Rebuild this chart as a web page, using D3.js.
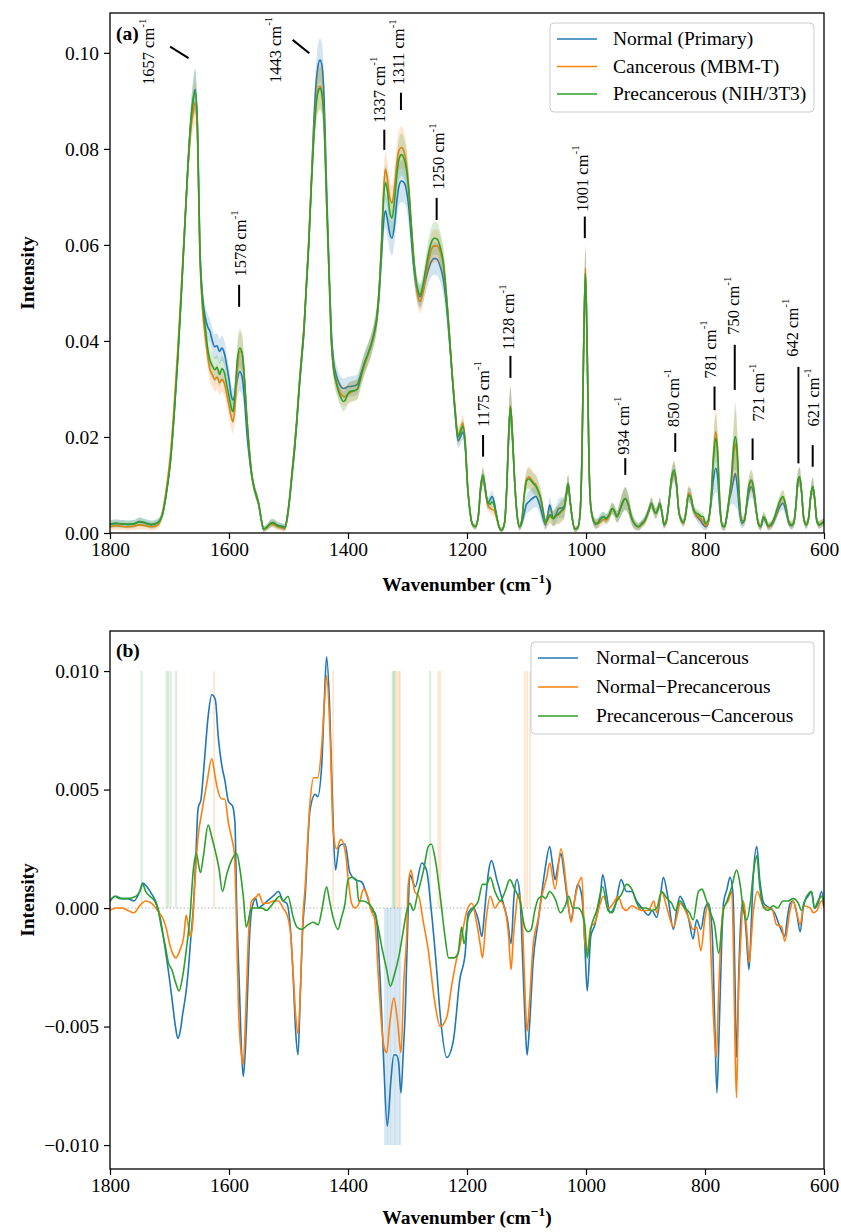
<!DOCTYPE html>
<html><head><meta charset="utf-8">
<script src="https://cdn.jsdelivr.net/npm/d3@7"></script>
<style>
body{margin:0;background:#fff}
svg{display:block}
text{font-family:"Liberation Serif","Times New Roman",Times,serif;fill:#000}
</style>
</head><body>
<svg id="chart" width="841" height="1232"></svg>
<script>
// ---------------- DATA ----------------
const seriesNamesA = ["Normal (Primary)", "Cancerous (MBM-T)", "Precancerous (NIH/3T3)"];
const seriesNamesB = ["Normal\u2212Cancerous", "Normal\u2212Precancerous", "Precancerous\u2212Cancerous"];
const xTicks = [1800, 1600, 1400, 1200, 1000, 800, 600];
const yTicksA = [0, 0.02, 0.04, 0.06, 0.08, 0.10];
const yTicksB = [-0.010, -0.005, 0, 0.005, 0.010];

const wavenumbers = [
1800,1790,1780,1770,1760,1750,1740,1730,1720,1712,
1705,1698,1692,1686,1680,1675,1670,1665,1660,1657,
1653,1649,1645,1640,1636,1632,1628,1624,1620,1616,
1612,1608,1604,1600,1596,1593,1590,1586,1582,1578,
1574,1570,1566,1562,1558,1554,1550,1546,1542,1538,
1534,1530,1526,1522,1518,1514,1510,1506,1502,1498,
1494,1490,1486,1482,1478,1474,1470,1466,1462,1458,
1454,1450,1447,1444,1440,1436,1432,1428,1424,1420,
1416,1412,1408,1404,1400,1396,1392,1388,1384,1380,
1376,1372,1368,1364,1360,1356,1352,1348,1344,1340,
1337,1334,1330,1326,1322,1318,1314,1310,1306,1302,
1298,1294,1290,1286,1282,1279,1275,1270,1265,1260,
1255,1250,1245,1240,1235,1230,1225,1220,1215,1211,
1207,1203,1199,1195,1191,1186,1181,1177,1173,1169,
1165,1161,1158,1155,1150,1146,1142,1137,1133,1130,
1127,1124,1120,1116,1112,1108,1104,1100,1096,1092,
1088,1084,1080,1076,1072,1068,1064,1061,1058,1055,
1050,1046,1041,1037,1033,1030,1027,1023,1019,1014,
1010,1007,1004,1001,998,995,992,988,984,980,
976,971,966,961,956,952,948,943,938,934,
929,924,918,912,906,901,895,890,886,883,
879,876,872,869,865,861,856,852,848,844,
840,836,832,828,824,820,816,812,807,803,
799,795,790,786,782,779,775,771,767,763,
759,756,752,749,746,742,738,734,730,726,
722,718,714,710,706,702,698,694,689,684,
679,674,669,664,659,655,651,647,644,641,
638,634,630,626,622,619,616,612,608,604,
600];

const normalPrimary = [
.0018,.0020,.0019,.0018,.0019,.0024,.0021,.0018,.0022,.0038,
.0085,.0155,.0250,.0365,.0500,.0620,.0740,.0840,.0905,.0924,
.0850,.0600,.0500,.0450,.0430,.0420,.0400,.0388,.0390,.0378,
.0385,.0375,.0350,.0320,.0285,.0277,.0290,.0320,.0336,.0325,
.0280,.0210,.0160,.0120,.0095,.0078,.0060,.0030,.0008,.0010,
.0015,.0020,.0022,.0019,.0016,.0015,.0014,.0012,.0030,.0070,
.0120,.0170,.0230,.0300,.0360,.0420,.0510,.0600,.0720,.0840,
.0930,.0975,.0985,.0975,.0900,.0720,.0560,.0420,.0355,.0330,
.0315,.0305,.0301,.0302,.0305,.0305,.0306,.0307,.0310,.0325,
.0340,.0355,.0367,.0380,.0395,.0415,.0440,.0490,.0570,.0650,
.0671,.0655,.0625,.0614,.0640,.0690,.0725,.0733,.0730,.0715,
.0680,.0620,.0560,.0520,.0497,.0492,.0500,.0525,.0548,.0565,
.0572,.0570,.0555,.0530,.0480,.0410,.0330,.0250,.0192,.0200,
.0210,.0180,.0095,.0045,.0018,.0013,.0035,.0090,.0114,.0090,
.0062,.0070,.0076,.0068,.0034,.0012,.0006,.0020,.0100,.0200,
.0260,.0210,.0110,.0040,.0013,.0020,.0040,.0060,.0065,.0070,
.0074,.0076,.0066,.0050,.0030,.0017,.0040,.0058,.0045,.0030,
.0040,.0051,.0052,.0054,.0080,.0103,.0070,.0030,.0008,.0010,
.0040,.0150,.0380,.0542,.0380,.0150,.0055,.0028,.0018,.0022,
.0030,.0034,.0030,.0038,.0051,.0045,.0034,.0048,.0065,.0072,
.0060,.0034,.0018,.0013,.0020,.0027,.0045,.0062,.0048,.0041,
.0050,.0062,.0040,.0017,.0025,.0060,.0110,.0124,.0100,.0045,
.0027,.0022,.0045,.0080,.0075,.0050,.0040,.0032,.0025,.0017,
.0013,.0020,.0060,.0110,.0135,.0120,.0050,.0015,.0013,.0035,
.0070,.0085,.0110,.0124,.0100,.0045,.0020,.0025,.0055,.0085,
.0096,.0080,.0045,.0018,.0013,.0030,.0025,.0013,.0015,.0025,
.0040,.0055,.0062,.0045,.0020,.0015,.0020,.0060,.0105,.0117,
.0090,.0030,.0017,.0030,.0080,.0097,.0075,.0025,.0017,.0020,
.0024];

const cancerousMBMT = [
.0013,.0015,.0014,.0013,.0014,.0017,.0015,.0013,.0016,.0042,
.0095,.0170,.0270,.0385,.0515,.0630,.0740,.0830,.0880,.0896,
.0825,.0580,.0475,.0410,.0370,.0340,.0330,.0320,.0325,.0313,
.0320,.0312,.0290,.0265,.0240,.0232,.0260,.0340,.0378,.0375,
.0320,.0240,.0175,.0125,.0095,.0078,.0060,.0030,.0008,.0010,
.0014,.0018,.0018,.0016,.0013,.0012,.0010,.0009,.0035,.0075,
.0130,.0180,.0240,.0310,.0370,.0430,.0520,.0610,.0720,.0820,
.0890,.0925,.0931,.0920,.0855,.0690,.0545,.0400,.0340,.0315,
.0300,.0290,.0285,.0284,.0290,.0292,.0295,.0297,.0300,.0315,
.0335,.0350,.0365,.0380,.0395,.0418,.0445,.0500,.0600,.0720,
.0758,.0740,.0700,.0687,.0720,.0770,.0798,.0803,.0795,.0770,
.0720,.0650,.0580,.0525,.0490,.0482,.0495,.0530,.0565,.0590,
.0598,.0598,.0585,.0560,.0500,.0420,.0335,.0260,.0204,.0215,
.0229,.0190,.0100,.0045,.0018,.0013,.0035,.0095,.0118,.0085,
.0058,.0052,.0049,.0048,.0030,.0012,.0006,.0020,.0100,.0205,
.0265,.0215,.0112,.0040,.0013,.0025,.0080,.0112,.0117,.0112,
.0105,.0100,.0088,.0072,.0045,.0020,.0028,.0035,.0032,.0030,
.0035,.0038,.0045,.0050,.0080,.0103,.0070,.0030,.0008,.0010,
.0040,.0150,.0385,.0552,.0385,.0150,.0055,.0028,.0020,.0020,
.0022,.0028,.0027,.0035,.0051,.0045,.0034,.0048,.0065,.0072,
.0060,.0034,.0018,.0013,.0018,.0025,.0045,.0062,.0048,.0041,
.0050,.0062,.0040,.0017,.0022,.0060,.0115,.0128,.0105,.0045,
.0027,.0020,.0045,.0083,.0078,.0052,.0040,.0035,.0030,.0025,
.0015,.0020,.0070,.0160,.0211,.0180,.0065,.0015,.0013,.0040,
.0075,.0100,.0160,.0187,.0160,.0065,.0025,.0025,.0060,.0098,
.0107,.0090,.0048,.0018,.0013,.0034,.0028,.0013,.0016,.0028,
.0045,.0065,.0074,.0055,.0022,.0017,.0020,.0060,.0108,.0117,
.0090,.0030,.0017,.0030,.0080,.0097,.0075,.0025,.0017,.0020,
.0024];

const precancerousNIH = [
.0018,.0020,.0019,.0018,.0019,.0023,.0020,.0017,.0021,.0038,
.0085,.0155,.0250,.0365,.0500,.0620,.0745,.0845,.0905,.0919,
.0845,.0590,.0490,.0430,.0385,.0360,.0348,.0340,.0345,.0330,
.0342,.0335,.0310,.0285,.0260,.0253,.0290,.0360,.0385,.0375,
.0320,.0240,.0175,.0125,.0095,.0078,.0060,.0030,.0008,.0010,
.0015,.0020,.0021,.0018,.0015,.0014,.0012,.0011,.0035,.0075,
.0125,.0175,.0235,.0305,.0365,.0425,.0515,.0600,.0710,.0810,
.0885,.0920,.0926,.0915,.0850,.0690,.0545,.0400,.0340,.0315,
.0295,.0282,.0274,.0278,.0290,.0295,.0296,.0297,.0300,.0318,
.0338,.0355,.0368,.0382,.0398,.0418,.0445,.0500,.0590,.0700,
.0730,.0715,.0670,.0656,.0690,.0745,.0780,.0788,.0780,.0760,
.0715,.0645,.0575,.0528,.0503,.0496,.0510,.0545,.0580,.0605,
.0614,.0612,.0595,.0565,.0500,.0420,.0330,.0255,.0200,.0210,
.0222,.0188,.0098,.0045,.0018,.0013,.0035,.0098,.0121,.0090,
.0062,.0060,.0065,.0060,.0034,.0012,.0006,.0020,.0100,.0205,
.0263,.0212,.0110,.0040,.0013,.0025,.0075,.0108,.0113,.0108,
.0102,.0097,.0086,.0072,.0045,.0022,.0030,.0038,.0035,.0030,
.0037,.0040,.0047,.0052,.0080,.0103,.0070,.0030,.0008,.0010,
.0040,.0150,.0380,.0540,.0380,.0150,.0055,.0028,.0020,.0020,
.0028,.0034,.0030,.0038,.0051,.0045,.0034,.0048,.0065,.0072,
.0060,.0034,.0018,.0013,.0020,.0027,.0045,.0062,.0048,.0041,
.0050,.0062,.0040,.0017,.0025,.0060,.0118,.0131,.0105,.0045,
.0027,.0022,.0040,.0078,.0075,.0052,.0042,.0040,.0035,.0034,
.0020,.0025,.0070,.0150,.0197,.0170,.0062,.0015,.0013,.0040,
.0076,.0110,.0180,.0201,.0175,.0070,.0025,.0025,.0060,.0100,
.0110,.0092,.0050,.0018,.0013,.0034,.0028,.0015,.0018,.0030,
.0050,.0068,.0076,.0055,.0022,.0017,.0020,.0060,.0110,.0117,
.0090,.0030,.0017,.0030,.0080,.0097,.0075,.0025,.0017,.0020,
.0024];

const spectrumSD = [
.0008,.0008,.0008,.0008,.0008,.0009,.0008,.0008,.0008,.0009,
.0010,.0012,.0015,.0018,.0022,.0026,.0030,.0034,.0040,.0045,
.0040,.0032,.0028,.0026,.0026,.0026,.0026,.0026,.0026,.0026,
.0026,.0026,.0025,.0024,.0024,.0024,.0026,.0035,.0040,.0038,
.0030,.0022,.0016,.0013,.0012,.0011,.0010,.0008,.0006,.0006,
.0007,.0008,.0008,.0008,.0007,.0007,.0007,.0007,.0008,.0010,
.0012,.0014,.0016,.0018,.0020,.0022,.0025,.0028,.0032,.0036,
.0040,.0045,.0045,.0045,.0040,.0034,.0030,.0026,.0024,.0022,
.0021,.0021,.0021,.0021,.0021,.0021,.0021,.0021,.0021,.0021,
.0022,.0022,.0022,.0022,.0022,.0023,.0024,.0026,.0030,.0034,
.0036,.0036,.0036,.0036,.0038,.0040,.0042,.0044,.0042,.0040,
.0038,.0034,.0030,.0026,.0024,.0024,.0025,.0027,.0030,.0032,
.0034,.0034,.0033,.0032,.0030,.0026,.0022,.0018,.0016,.0016,
.0016,.0015,.0011,.0008,.0006,.0006,.0008,.0014,.0018,.0015,
.0012,.0012,.0012,.0011,.0008,.0006,.0005,.0008,.0020,.0035,
.0042,.0035,.0020,.0010,.0008,.0010,.0016,.0020,.0022,.0022,
.0022,.0022,.0020,.0018,.0014,.0012,.0014,.0016,.0016,.0016,
.0018,.0020,.0022,.0022,.0020,.0018,.0014,.0008,.0006,.0006,
.0010,.0020,.0040,.0050,.0040,.0020,.0012,.0010,.0010,.0010,
.0010,.0010,.0010,.0011,.0012,.0012,.0012,.0018,.0022,.0024,
.0020,.0014,.0010,.0008,.0008,.0009,.0010,.0012,.0011,.0011,
.0011,.0012,.0010,.0008,.0008,.0012,.0018,.0020,.0018,.0010,
.0008,.0008,.0010,.0016,.0016,.0012,.0010,.0010,.0010,.0010,
.0008,.0009,.0015,.0035,.0050,.0040,.0020,.0008,.0008,.0012,
.0018,.0025,.0050,.0070,.0050,.0025,.0010,.0010,.0015,.0020,
.0022,.0018,.0012,.0008,.0008,.0010,.0009,.0008,.0008,.0009,
.0010,.0012,.0014,.0012,.0008,.0008,.0009,.0014,.0018,.0020,
.0016,.0009,.0008,.0010,.0016,.0018,.0014,.0008,.0008,.0008,
.0008];

// difference spectra: [wavenumber, intensity difference]
const diffNormalCancerous = [
[1800,.0003],[1790,.0005],[1780,.0004],[1770,.0004],[1760,.0003],[1750,.0007],[1745,.00105],[1738,.0009],[1730,.0006],[1722,.0002],
[1715,-.0005],[1708,-.0016],[1700,-.0030],[1695,-.0040],[1690,-.0050],[1686,-.0055],[1682,-.0052],[1678,-.0045],[1672,-.0035],[1668,-.0025],
[1664,-.0012],[1660,.0000],[1656,.0020],[1652,.0042],[1647,.0046],[1642,.0060],[1635,.0081],[1629,.0090],[1623,.0088],[1618,.0072],
[1612,.0060],[1607,.0054],[1601,.0045],[1594,.0043],[1590,.0036],[1587,.0000],[1583,-.0030],[1579,-.0060],[1576,-.0071],[1573,-.0062],
[1570,-.0045],[1566,-.0015],[1562,-.0001],[1555,.0004],[1551,.0000],[1545,.0001],[1540,.0002],[1531,.0004],[1526,.0005],[1517,.0007],
[1509,.0003],[1503,.0002],[1497,-.0008],[1492,-.0030],[1488,-.0052],[1484,-.0062],[1480,-.0035],[1476,-.0008],[1472,.0005],[1464,.0041],
[1455,.0048],[1451,.0047],[1444,.0061],[1440,.0086],[1436,.0106],[1431,.0086],[1426,.0044],[1421,.0016],[1415,.0026],[1408,.0027],
[1405,.0027],[1397,.0015],[1388,.0012],[1377,.0011],[1369,.0006],[1360,-.0001],[1355,-.0002],[1352,-.0005],[1346,-.0030],[1340,-.0065],
[1334,-.0092],[1328,-.0073],[1323,-.0062],[1319,-.0062],[1315,-.0065],[1311,-.0078],[1307,-.0060],[1304,-.0045],[1299,-.0002],[1296,.0014],
[1287,.0009],[1276,.0019],[1268,.0016],[1260,-.0001],[1251,-.0026],[1245,-.0045],[1234,-.0063],[1223,-.0056],[1212,-.0030],[1203,-.0019],
[1198,-.0002],[1189,.0000],[1181,-.0005],[1175,-.0012],[1170,.0000],[1164,.0015],[1159,.0020],[1150,.0012],[1139,.0002],[1132,-.0005],
[1126,-.0015],[1121,.0005],[1116,.0012],[1111,.0005],[1106,-.0025],[1102,-.0050],[1099,-.0062],[1095,-.0050],[1089,-.0023],[1080,-.0005],
[1075,.0005],[1069,.0016],[1061,.0026],[1056,.0018],[1052,.0012],[1047,.0018],[1042,.0023],[1037,.0015],[1032,.0005],[1025,-.0005],
[1020,.0002],[1014,.0010],[1007,.0005],[1002,-.0015],[998,-.0035],[992,-.0012],[985,-.0007],[976,.0005],[972,.0014],[965,.0005],
[960,-.0002],[950,.0002],[941,.0012],[932,.0007],[923,.0007],[915,.0003],[906,.0000],[895,-.0003],[889,-.0001],[881,-.0004],
[875,.0005],[870,.0013],[862,.0004],[853,-.0009],[847,.0000],[842,.0005],[837,.0003],[828,-.0004],[820,-.0013],[814,-.0005],
[807,-.0009],[800,.0000],[794,.0002],[788,-.0010],[784,-.0045],[780,-.0078],[776,-.0050],[772,-.0015],[769,.0002],[763,.0008],
[758,.0013],[753,.0006],[750,-.0025],[747,-.0063],[743,-.0025],[739,-.0002],[736,.0003],[731,-.0010],[726,-.0026],[722,-.0005],
[719,.0013],[713,.0026],[708,.0012],[701,.0002],[691,.0000],[683,-.0002],[674,-.0008],[666,-.0012],[661,-.0003],[657,.0002],
[652,.0003],[646,-.0002],[640,-.0010],[634,.0002],[627,.0005],[621,.0007],[616,.0000],[610,.0002],[604,.0007],[600,.0000]];

const diffNormalPrecancerous = [
[1800,-.0001],[1790,.0000],[1780,.0000],[1770,-.0001],[1760,-.0002],[1750,.0001],[1740,.0003],[1730,.0002],[1720,-.0001],[1710,-.0005],
[1705,-.0009],[1700,-.0015],[1695,-.0019],[1689,-.0021],[1683,-.0018],[1676,-.0012],[1672,-.0003],[1668,-.0008],[1665,-.0012],[1662,-.0009],
[1657,.0012],[1652,.0030],[1646,.0040],[1637,.0053],[1629,.0063],[1623,.0055],[1620,.0051],[1612,.0046],[1607,.0046],[1601,.0036],
[1596,.0030],[1591,.0023],[1588,.0000],[1584,-.0043],[1580,-.0060],[1576,-.0066],[1572,-.0045],[1568,-.0016],[1562,.0003],[1553,.0005],
[1550,.0006],[1543,.0002],[1534,.0002],[1526,.0003],[1517,.0003],[1509,.0000],[1501,-.0004],[1496,-.0012],[1492,-.0028],[1488,-.0045],
[1484,-.0053],[1480,-.0035],[1476,-.0005],[1472,.0009],[1464,.0044],[1458,.0055],[1451,.0055],[1444,.0069],[1439,.0089],[1436,.0098],
[1430,.0072],[1425,.0033],[1419,.0025],[1412,.0029],[1404,.0023],[1400,.0013],[1394,.0002],[1388,.0000],[1380,.0003],[1374,.0008],
[1367,.0005],[1361,-.0001],[1355,-.0005],[1349,-.0029],[1344,-.0048],[1340,-.0058],[1335,-.0061],[1330,-.0049],[1323,-.0038],[1317,-.0047],
[1311,-.0061],[1306,-.0030],[1301,-.0009],[1299,.0009],[1294,.0016],[1288,.0007],[1281,.0005],[1274,-.0005],[1265,-.0018],[1254,-.0040],
[1245,-.0050],[1234,-.0046],[1226,-.0033],[1217,-.0021],[1212,-.0016],[1206,-.0008],[1200,-.0001],[1192,.0002],[1184,-.0006],[1178,-.0015],
[1174,-.0021],[1168,-.0005],[1161,.0005],[1153,.0000],[1144,.0003],[1136,-.0001],[1130,-.0012],[1126,-.0026],[1122,-.0012],[1119,-.0004],
[1114,.0006],[1108,-.0001],[1104,-.0025],[1101,-.0045],[1099,-.0052],[1095,-.0040],[1089,-.0016],[1080,-.0004],[1075,.0004],[1066,.0013],
[1061,.0019],[1052,.0008],[1042,.0025],[1032,.0007],[1025,-.0006],[1020,.0002],[1013,.0010],[1007,.0013],[1002,-.0014],[998,-.0018],
[992,-.0008],[985,-.0006],[976,.0002],[971,.0005],[962,.0000],[954,.0002],[946,.0005],[938,.0000],[932,-.0001],[923,.0001],
[915,.0000],[906,-.0001],[895,-.0001],[886,.0003],[881,-.0002],[873,.0007],[864,.0000],[853,-.0008],[845,-.0001],[842,.0002],
[835,.0000],[828,-.0004],[820,-.0009],[814,-.0008],[807,-.0018],[800,-.0004],[794,.0002],[789,-.0026],[785,-.0050],[781,-.0063],
[777,-.0035],[774,-.0016],[769,.0000],[761,.0003],[755,.0007],[752,-.0020],[749,-.0065],[747,-.0080],[744,-.0040],[739,-.0009],
[736,.0003],[729,-.0012],[726,-.0023],[719,-.0002],[712,.0007],[704,.0002],[697,.0000],[688,.0000],[680,-.0007],[671,-.0008],
[666,-.0014],[657,-.0001],[652,.0003],[646,-.0002],[640,-.0007],[634,.0001],[623,.0000],[618,-.0002],[612,-.0001],[604,.0003],
[600,.0000]];

const diffPrecancerousCancerous = [
[1800,.0003],[1792,.0005],[1784,.0004],[1772,.0004],[1756,.0005],[1750,.0007],[1745,.0010],[1740,.0007],[1733,.0005],[1725,.0003],
[1719,-.0001],[1713,-.0009],[1707,-.0016],[1702,-.0023],[1696,-.0026],[1689,-.0032],[1684,-.0035],[1678,-.0029],[1671,-.0016],[1666,-.0005],
[1660,.0016],[1655,.0023],[1648,.0015],[1643,.0022],[1635,.0035],[1629,.0030],[1623,.0024],[1617,.0017],[1611,.0007],[1604,.0014],
[1596,.0020],[1587,.0023],[1582,.0017],[1576,.0005],[1571,-.0008],[1562,.0000],[1553,.0000],[1545,.0000],[1537,-.0001],[1529,.0001],
[1520,.0004],[1515,.0005],[1509,.0003],[1501,.0005],[1492,-.0004],[1486,-.0008],[1478,-.0009],[1467,-.0007],[1459,-.0006],[1450,-.0007],
[1444,-.0001],[1436,.0009],[1431,.0003],[1425,-.0004],[1417,-.0009],[1411,-.0004],[1405,.0002],[1400,.0012],[1394,.0013],[1386,.0012],
[1382,.0003],[1375,.0003],[1366,.0002],[1359,.0000],[1352,-.0005],[1342,-.0018],[1335,-.0026],[1329,-.0033],[1322,-.0028],[1315,-.0021],
[1308,-.0011],[1301,-.0001],[1296,.0002],[1290,-.0001],[1283,.0006],[1273,.0016],[1265,.0026],[1260,.0027],[1253,.0020],[1245,.0005],
[1237,-.0012],[1231,-.0021],[1222,-.0021],[1215,-.0019],[1209,-.0008],[1205,-.0015],[1198,-.0004],[1189,.0000],[1181,.0003],[1174,.0010],
[1167,.0010],[1161,.0013],[1153,.0007],[1144,.0003],[1136,.0007],[1128,.0012],[1120,.0008],[1111,.0003],[1103,-.0008],[1097,-.0010],
[1092,-.0009],[1086,-.0001],[1080,.0004],[1073,.0005],[1068,.0004],[1061,.0007],[1052,.0004],[1043,-.0002],[1035,.0001],[1029,.0005],
[1022,.0000],[1014,.0000],[1007,-.0002],[1002,-.0007],[998,-.0021],[992,-.0009],[982,-.0001],[972,.0009],[963,-.0001],[956,-.0002],
[948,.0003],[940,.0006],[932,.0010],[923,.0008],[916,.0003],[909,.0000],[900,.0000],[889,-.0001],[881,.0000],[873,.0007],
[864,.0004],[856,.0002],[850,-.0001],[842,.0003],[834,.0000],[826,-.0002],[820,-.0005],[811,.0007],[805,.0008],[800,.0005],
[791,-.0002],[784,-.0007],[777,-.0019],[769,-.0001],[763,.0003],[755,.0009],[747,.0016],[741,.0010],[736,.0000],[730,-.0005],
[724,.0002],[719,.0014],[713,.0022],[708,.0009],[701,.0000],[694,-.0001],[686,.0001],[678,.0000],[669,.0003],[660,.0003],
[652,.0004],[643,.0002],[638,-.0001],[629,.0005],[621,.0007],[616,.0000],[610,.0003],[604,.0005],[600,.0001]];

// significance markers (wavenumbers)
const sigNormalCancerous = [1338,1335,1333,1330,1328,1325,1322,1320,1317,1314,1312];
const sigNormalPrecancerous = [1625,1425,1318,1315,1313,1248,1245,1103,1099,1094];
const sigPrecancerousCancerous = [1747,1705,1702,1698,1689,1325,1323,1321,1262];

// peak annotations (data coordinates: text anchor and marker segment)
const peakLabels = [
 {label:"1657", tw:1736, tv:0.0933, w1:1699, v1:0.1013, w2:1668, v2:0.0989},
 {label:"1443", tw:1523, tv:0.0937, w1:1493, v1:0.1027, w2:1465, v2:0.0999},
 {label:"1337", tw:1347, tv:0.0854, w1:1339, v1:0.0840, w2:1339, v2:0.0798},
 {label:"1311", tw:1315, tv:0.0933, w1:1311, v1:0.0917, w2:1311, v2:0.0881},
 {label:"1250", tw:1248, tv:0.0715, w1:1251, v1:0.0698, w2:1251, v2:0.0652},
 {label:"1578", tw:1581, tv:0.0534, w1:1583, v1:0.0517, w2:1583, v2:0.0471},
 {label:"1175", tw:1173, tv:0.0221, w1:1173, v1:0.0204, w2:1173, v2:0.0159},
 {label:"1128", tw:1131, tv:0.0381, w1:1127, v1:0.0369, w2:1127, v2:0.0323},
 {label:"1001", tw:1007, tv:0.0669, w1:1002, v1:0.0659, w2:1002, v2:0.0614},
 {label:"934",  tw:937,  tv:0.0163, w1:934,  v1:0.0156, w2:934,  v2:0.0121},
 {label:"850",  tw:853,  tv:0.0221, w1:850,  v1:0.0208, w2:850,  v2:0.0169},
 {label:"781",  tw:792,  tv:0.0322, w1:784,  v1:0.0305, w2:784,  v2:0.0256},
 {label:"750",  tw:752,  tv:0.0413, w1:750,  v1:0.0392, w2:750,  v2:0.0298},
 {label:"721",  tw:710,  tv:0.0232, w1:720,  v1:0.0197, w2:720,  v2:0.0152},
 {label:"642",  tw:654,  tv:0.0367, w1:643,  v1:0.0346, w2:643,  v2:0.0145},
 {label:"621",  tw:618,  tv:0.0222, w1:619,  v1:0.0183, w2:619,  v2:0.0138}
];

// ---------------- DRAW ----------------
const colors = ["#1f77b4", "#ff7f0e", "#2ca02c"];
const svg = d3.select("#chart");
const L = 110, R = 824;
const panelA = {top: 13, bottom: 533};
const panelB = {top: 631, bottom: 1169};
const x = d3.scaleLinear().domain([1800, 600]).range([L, R]);
const yA = d3.scaleLinear().domain([0, 0.1083]).range([panelA.bottom, panelA.top]);
const yB = d3.scaleLinear().domain([-0.01101, 0.01169]).range([panelB.bottom, panelB.top]);
const FS = 19.5;

const defs = svg.append("defs");
defs.append("clipPath").attr("id","clipA").append("rect")
  .attr("x",L).attr("y",panelA.top).attr("width",R-L).attr("height",panelA.bottom-panelA.top);
defs.append("clipPath").attr("id","clipB").append("rect")
  .attr("x",L).attr("y",panelB.top).attr("width",R-L).attr("height",panelB.bottom-panelB.top);

// ---- Panel A ----
const gA = svg.append("g").attr("clip-path","url(#clipA)");
const idx = d3.range(wavenumbers.length);
const meansA = [normalPrimary, cancerousMBMT, precancerousNIH];
meansA.forEach((m, k) => {
  const area = d3.area()
    .x(i => x(wavenumbers[i]))
    .y0(i => yA(m[i] - spectrumSD[i]))
    .y1(i => yA(m[i] + spectrumSD[i]))
    .curve(d3.curveMonotoneX);
  gA.append("path").datum(idx).attr("d", area)
    .attr("fill", colors[k]).attr("fill-opacity", 0.2).attr("stroke","none");
  const line = d3.line().x(i => x(wavenumbers[i])).y(i => yA(m[i])).curve(d3.curveMonotoneX);
  gA.append("path").datum(idx).attr("d", line)
    .attr("fill","none").attr("stroke", colors[k]).attr("stroke-width", 1.6);
});

// annotations
const annG = svg.append("g");
peakLabels.forEach(p => {
  annG.append("line")
    .attr("x1", x(p.w1)).attr("y1", yA(p.v1))
    .attr("x2", x(p.w2)).attr("y2", yA(p.v2))
    .attr("stroke","#000").attr("stroke-width",2);
  const tx = x(p.tw), ty = yA(p.tv);
  const t = annG.append("text")
    .attr("transform", `translate(${tx},${ty}) rotate(-90)`)
    .attr("dy","0.35em")
    .attr("font-size", 16.5);
  t.append("tspan").text(p.label + " cm");
  t.append("tspan").attr("font-size", 11).attr("dy", "-0.75em").text("-1");
});

function drawAxes(y, ticks, fmt, top, bottom) {
  const gx = svg.append("g").attr("transform", `translate(0,${bottom})`)
    .call(d3.axisBottom(x).tickValues(xTicks).tickFormat(d3.format("d")).tickSize(6).tickPadding(3));
  gx.select(".domain").remove();
  gx.selectAll("text").attr("font-size", FS).attr("font-family", '"Liberation Serif","Times New Roman",serif');
  gx.selectAll("line").attr("stroke","#000").attr("stroke-width",1.2);
  const gy = svg.append("g").attr("transform", `translate(${L},0)`)
    .call(d3.axisLeft(y).tickValues(ticks).tickFormat(fmt).tickSize(6).tickPadding(5));
  gy.select(".domain").remove();
  gy.selectAll("text").attr("font-size", FS).attr("font-family", '"Liberation Serif","Times New Roman",serif');
  gy.selectAll("line").attr("stroke","#000").attr("stroke-width",1.2);
  svg.append("rect").attr("x",L).attr("y",top).attr("width",R-L).attr("height",bottom-top)
    .attr("fill","none").attr("stroke","#000").attr("stroke-width",1.3);
}

drawAxes(yA, yTicksA, d3.format(".2f"), panelA.top, panelA.bottom);

function xLabel(yPos) {
  const t = svg.append("text").attr("x", (L+R)/2).attr("y", yPos)
    .attr("text-anchor","middle").attr("font-weight","bold").attr("font-size", FS);
  t.append("tspan").text("Wavenumber (cm");
  t.append("tspan").attr("font-size", 13.5).attr("dy", -8).text("\u22121");
  t.append("tspan").attr("dy", 8).text(")");
}
function yLabel(cy) {
  svg.append("text").attr("transform", `translate(34,${cy}) rotate(-90)`)
    .attr("text-anchor","middle").attr("font-weight","bold").attr("font-size", FS).text("Intensity");
}
xLabel(591); yLabel((panelA.top+panelA.bottom)/2);
svg.append("text").attr("x",116).attr("y",40).attr("font-weight","bold").attr("font-size",FS).text("(a)");

function legend(x0, y0, w, h, names, lineX0, textX, rowY) {
  const g = svg.append("g");
  g.append("rect").attr("x",x0).attr("y",y0).attr("width",w).attr("height",h)
    .attr("rx",4).attr("fill","#fff").attr("fill-opacity",0.85).attr("stroke","#ccc").attr("stroke-width",1);
  names.forEach((n,k) => {
    const yy = rowY[k];
    g.append("line").attr("x1",lineX0).attr("x2",lineX0+40).attr("y1",yy).attr("y2",yy)
      .attr("stroke",colors[k]).attr("stroke-width",1.6);
    g.append("text").attr("x",textX).attr("y",yy).attr("dy","0.33em").attr("font-size",FS).text(n);
  });
}
legend(550, 23, 264, 89, seriesNamesA, 557, 613, [39, 66.5, 94]);

// ---- Panel B ----
const gB = svg.append("g").attr("clip-path","url(#clipB)");
gB.append("line").attr("x1",L).attr("x2",R).attr("y1",yB(0)).attr("y2",yB(0))
  .attr("stroke","#aaa").attr("stroke-width",0.9).attr("stroke-dasharray","1.5,2");
const sigSets = [
  {data: sigNormalCancerous, c: colors[0], v0: 0, v1: -0.010, op: 0.16},
  {data: sigNormalPrecancerous, c: colors[1], v0: 0, v1: 0.010, op: 0.2},
  {data: sigPrecancerousCancerous, c: colors[2], v0: 0, v1: 0.010, op: 0.2}
];
sigSets.forEach(s => {
  gB.selectAll(null).data(s.data).enter().append("line")
    .attr("x1", d => x(d)).attr("x2", d => x(d))
    .attr("y1", yB(s.v0)).attr("y2", yB(s.v1))
    .attr("stroke", s.c).attr("stroke-opacity", s.op).attr("stroke-width", 1.8);
});
[diffNormalCancerous, diffNormalPrecancerous, diffPrecancerousCancerous].forEach((d,k) => {
  const line = d3.line().x(p => x(p[0])).y(p => yB(p[1])).curve(d3.curveMonotoneX);
  gB.append("path").datum(d).attr("d", line)
    .attr("fill","none").attr("stroke",colors[k]).attr("stroke-width",1.6);
});

drawAxes(yB, yTicksB, d3.format(".3f"), panelB.top, panelB.bottom);
xLabel(1224); yLabel((panelB.top+panelB.bottom)/2);
svg.append("text").attr("x",116).attr("y",657).attr("font-weight","bold").attr("font-size",FS).text("(b)");
legend(531, 642, 283, 92, seriesNamesB, 538, 596, [658, 687, 716]);
</script>
</body></html>
